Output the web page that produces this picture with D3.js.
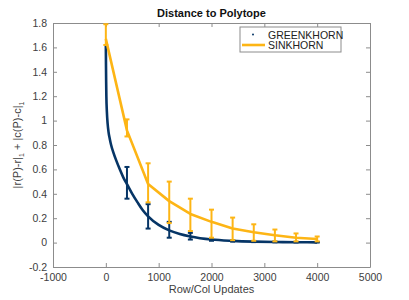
<!DOCTYPE html>
<html>
<head>
<meta charset="utf-8">
<script src="https://cdn.jsdelivr.net/npm/d3@7"></script>
<style>
  body { margin: 0; background: #fff; }
  svg { font-family: "Liberation Sans", Arial, Helvetica, sans-serif; }
</style>
</head>
<body>
<div class="chart"></div>
<script>
// greenkhorn mean curve (dense near 0)
var gkX = [0, 3, 6, 10, 20, 35, 50, 75, 100, 150, 200, 270, 330, 400, 500, 600, 700, 800, 1000, 1200, 1400, 1600, 2000, 2400, 2800, 3200, 3600, 4000];
var gkY = [1.62, 1.45, 1.32, 1.2, 1.07, 0.97, 0.91, 0.85, 0.8, 0.73, 0.67, 0.595, 0.535, 0.48, 0.4, 0.33, 0.265, 0.215, 0.145, 0.1, 0.07, 0.05, 0.025, 0.014, 0.008, 0.005, 0.003, 0.002];

// error bar positions
var barX = [0, 400, 800, 1200, 1600, 2000, 2400, 2800, 3200, 3600, 4000];
var gkLo = [1.62, 0.36, 0.115, 0.04, 0.025, 0.015, 0.008, 0.004, 0.002, 0.001, 0.001];
var gkHi = [1.62, 0.62, 0.315, 0.17, 0.08, 0.035, 0.02, 0.012, 0.008, 0.006, 0.004];

var skY  = [1.67, 0.92, 0.48, 0.34, 0.235, 0.17, 0.115, 0.085, 0.06, 0.04, 0.03];
var skLo = [1.62, 0.87, 0.33, 0.16, 0.095, 0.04, 0.02, 0.015, 0.01, 0.01, 0.01];
var skHi = [1.79, 1.01, 0.65, 0.5, 0.36, 0.27, 0.205, 0.15, 0.107, 0.075, 0.05];

var xTicks = [-1000, 0, 1000, 2000, 3000, 4000, 5000];
var yTicks = [-0.2, 0, 0.2, 0.4, 0.6, 0.8, 1, 1.2, 1.4, 1.6, 1.8];

var W = 409, H = 300;
var margin = {top: 23, right: 39, bottom: 33, left: 53};
var width = W - margin.left - margin.right,
    height = H - margin.top - margin.bottom;

var navy = "#063566", gold = "#fdb515", axisCol = "#8c8c8c", textCol = "#404040";

var svg = d3.select(".chart").append("svg")
    .attr("width", W)
    .attr("height", H);

var g = svg.append("g")
    .attr("transform", "translate(" + margin.left + "," + margin.top + ")");

var x = d3.scaleLinear().domain([-1000, 5000]).range([0, width]);
var y = d3.scaleLinear().domain([-0.2, 1.8]).range([height, 0]);

// axes, MATLAB style: inward ticks on all four sides
function styleAxis(sel) {
  sel.select(".domain").attr("stroke", axisCol);
  sel.selectAll(".tick line").attr("stroke", axisCol);
  sel.selectAll(".tick text").attr("fill", textCol).style("font-size", "10.5px");
}
function plain(d) { return String(+d.toFixed(1)); }

g.append("g")
  .attr("transform", "translate(0," + height + ")")
  .call(d3.axisBottom(x).tickValues(xTicks).tickSize(-4).tickPadding(7).tickSizeOuter(0).tickFormat(plain))
  .call(styleAxis);
g.append("g")
  .call(d3.axisTop(x).tickValues(xTicks).tickSize(-4).tickFormat("").tickSizeOuter(0))
  .call(styleAxis);
g.append("g")
  .call(d3.axisLeft(y).tickValues(yTicks).tickSize(-4).tickPadding(6).tickSizeOuter(0).tickFormat(plain))
  .call(styleAxis);
g.append("g")
  .attr("transform", "translate(" + width + ",0)")
  .call(d3.axisRight(y).tickValues(yTicks).tickSize(-4).tickFormat("").tickSizeOuter(0))
  .call(styleAxis);

var skData = barX.map(function(d, i) { return {x: d, y: skY[i], lo: skLo[i], hi: skHi[i]}; });
var gkBars = barX.map(function(d, i) { return {x: d, lo: gkLo[i], hi: gkHi[i]}; });
var gkData = gkX.map(function(d, i) { return {x: d, y: gkY[i]}; });

var smooth = d3.line()
    .x(function(d) { return x(d.x); })
    .y(function(d) { return y(d.y); })
    .curve(d3.curveMonotoneX);
var straight = d3.line()
    .x(function(d) { return x(d.x); })
    .y(function(d) { return y(d.y); });

function drawBars(data, color) {
  var bars = g.append("g").selectAll("g")
    .data(data)
    .enter().append("g")
      .attr("stroke", color)
      .attr("stroke-width", 2);
  bars.append("line")
    .attr("x1", function(d) { return x(d.x); })
    .attr("x2", function(d) { return x(d.x); })
    .attr("y1", function(d) { return y(d.lo); })
    .attr("y2", function(d) { return y(d.hi); });
  bars.append("line")
    .attr("x1", function(d) { return x(d.x) - 2.5; })
    .attr("x2", function(d) { return x(d.x) + 2.5; })
    .attr("y1", function(d) { return y(d.lo); })
    .attr("y2", function(d) { return y(d.lo); });
  bars.append("line")
    .attr("x1", function(d) { return x(d.x) - 2.5; })
    .attr("x2", function(d) { return x(d.x) + 2.5; })
    .attr("y1", function(d) { return y(d.hi); })
    .attr("y2", function(d) { return y(d.hi); });
}

g.append("path")
  .datum(gkData)
  .attr("d", smooth)
  .attr("fill", "none")
  .attr("stroke", navy)
  .attr("stroke-width", 2.6);
drawBars(gkBars.slice(1), navy);

g.append("path")
  .datum(skData)
  .attr("d", straight)
  .attr("fill", "none")
  .attr("stroke", gold)
  .attr("stroke-width", 2.6)
  .attr("stroke-linejoin", "round");
drawBars(skData, gold);

// title and labels
svg.append("text")
  .attr("x", margin.left + width / 2)
  .attr("y", 17)
  .attr("text-anchor", "middle")
  .style("font-size", "11px")
  .style("font-weight", "bold")
  .attr("fill", "#111")
  .text("Distance to Polytope");

svg.append("text")
  .attr("x", margin.left + width / 2)
  .attr("y", 293)
  .attr("text-anchor", "middle")
  .style("font-size", "11px")
  .attr("fill", textCol)
  .text("Row/Col Updates");

var yl = svg.append("text")
  .attr("transform", "translate(21," + (margin.top + height / 2) + ") rotate(-90)")
  .attr("text-anchor", "middle")
  .style("font-size", "11px")
  .attr("fill", textCol);
yl.append("tspan").text("|r(P)-r|");
yl.append("tspan").attr("dy", 3).style("font-size", "7px").text("1");
yl.append("tspan").attr("dy", -3).text(" + |c(P)-c|");
yl.append("tspan").attr("dy", 3).style("font-size", "7px").text("1");

// legend
var lg = svg.append("g").attr("transform", "translate(240,27)");
lg.append("rect")
  .attr("width", 101).attr("height", 25)
  .attr("fill", "#fff")
  .attr("stroke", axisCol);
lg.append("circle")
  .attr("cx", 13).attr("cy", 7.5).attr("r", 1)
  .attr("fill", navy);
lg.append("line")
  .attr("x1", 2).attr("x2", 25).attr("y1", 18).attr("y2", 18)
  .attr("stroke", gold).attr("stroke-width", 2.6);
lg.append("text").attr("x", 28).attr("y", 11.5)
  .style("font-size", "10.5px").attr("fill", "#222").text("GREENKHORN");
lg.append("text").attr("x", 28).attr("y", 22)
  .style("font-size", "10.5px").attr("fill", "#222").text("SINKHORN");
</script>
</body>
</html>
